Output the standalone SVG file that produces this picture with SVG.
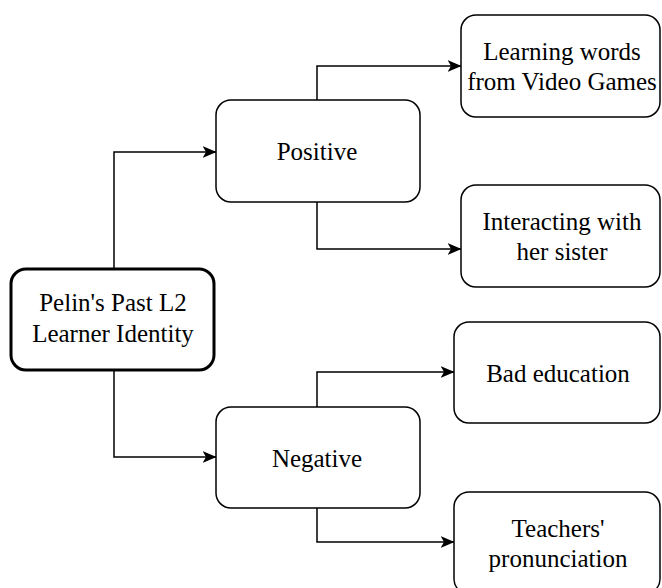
<svg xmlns="http://www.w3.org/2000/svg" width="662" height="588" viewBox="0 0 662 588">
  <style>
    .box { fill: #ffffff; stroke: #000000; stroke-width: 1.5; }
    .root { fill: #ffffff; stroke: #000000; stroke-width: 3; }
    .lbl { font-family: 'Liberation Serif', serif; font-size: 25px; fill: #000000; text-anchor: middle; }
    .edge { fill: none; stroke: #000000; stroke-width: 1.5; marker-end: url(#arrow); }
  </style>
  <defs>
    <marker id="arrow" viewBox="0 0 14 12" refX="13.5" refY="6" markerWidth="14" markerHeight="12" markerUnits="userSpaceOnUse" orient="auto">
      <path d="M0,0 L14,6 L0,12 L3.5,6 Z" fill="#000000"/>
    </marker>
  </defs>
  <rect width="662" height="588" fill="#ffffff"/>

  <g id="connectors">
    <path class="edge" d="M114,268 V152 H216"/>
    <path class="edge" d="M114,370 V457 H216"/>
    <path class="edge" d="M317,100 V66 H461"/>
    <path class="edge" d="M317,202 V249 H461"/>
    <path class="edge" d="M317,407 V372 H454"/>
    <path class="edge" d="M317,508 V542 H454"/>
  </g>

  <g id="root">
    <rect class="root" x="11" y="269" width="203" height="101" rx="15"/>
    <text class="lbl" x="113" y="311">Pelin's Past L2</text>
    <text class="lbl" x="113" y="342">Learner Identity</text>
  </g>

  <g id="positive">
    <rect class="box" x="216" y="100" width="204" height="102" rx="15"/>
    <text class="lbl" x="317" y="160">Positive</text>
  </g>

  <g id="negative">
    <rect class="box" x="216" y="407" width="204" height="101" rx="15"/>
    <text class="lbl" x="317" y="467">Negative</text>
  </g>

  <g id="video-games">
    <rect class="box" x="461" y="15" width="199" height="102" rx="15"/>
    <text class="lbl" x="562" y="60">Learning words</text>
    <text class="lbl" x="562" y="90">from Video Games</text>
  </g>

  <g id="sister">
    <rect class="box" x="461" y="185" width="199" height="102" rx="15"/>
    <text class="lbl" x="562" y="230">Interacting with</text>
    <text class="lbl" x="562" y="260">her sister</text>
  </g>

  <g id="bad-education">
    <rect class="box" x="454" y="322" width="206" height="101" rx="15"/>
    <text class="lbl" x="558" y="382">Bad education</text>
  </g>

  <g id="pronunciation">
    <rect class="box" x="454" y="492" width="206" height="102" rx="15"/>
    <text class="lbl" x="558" y="537">Teachers'</text>
    <text class="lbl" x="558" y="567">pronunciation</text>
  </g>
</svg>
